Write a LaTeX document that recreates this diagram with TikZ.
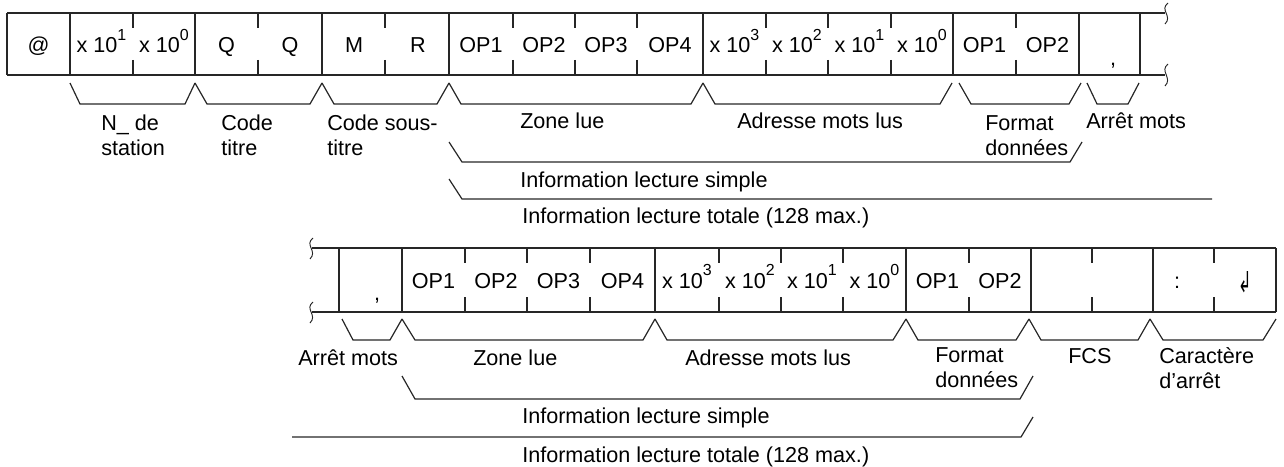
\documentclass[tikz,border=0pt]{standalone}
\usepackage{fontspec}
\setmainfont{Liberation Sans}
\newfontfamily\symfont{DejaVu Sans}
\newcommand{\pw}[1]{x 10\raisebox{9.3pt}{\fontsize{12}{12}\selectfont #1}}
\begin{document}
\begin{tikzpicture}[x=0.75pt,y=-0.75pt,
  rec/.style={draw=black!85,line width=0.9pt},
  tick/.style={draw=black!85,line width=0.9pt},
  brk/.style={draw=black!85,line width=0.9pt},
  squig/.style={draw=black!85,line width=0.7pt},
  ct/.style={font=\fontsize{16.2}{18.75}\selectfont,inner sep=0pt,anchor=base},
  lbl/.style={font=\fontsize{16.2}{18.75}\selectfont,inner sep=0pt,anchor=base west},
  lbl2/.style={font=\fontsize{16.2}{18.75}\selectfont,inner sep=0pt,anchor=north west,align=left}]
\useasboundingbox (0,0) rectangle (1284,467);

% ---------------- top record ----------------
\draw[rec] (7,13) -- (1165,13);
\draw[rec] (7,75) -- (1165,75);
\foreach \x in {7,70,195,322,449,703,953,1079,1140}
  \draw[rec] (\x,13) -- (\x,75);
\foreach \x in {133,258,385,513,575,637,766,828,891,1016}{
  \draw[tick] (\x,13) -- (\x,28);
  \draw[tick] (\x,60) -- (\x,75);}
\draw[squig] (1168,3) .. controls (1159,10) and (1173,16) .. (1165,24);
\draw[squig] (1168,64) .. controls (1159,71) and (1173,78) .. (1165,86);

\node[ct] (t1) at (38.5,53) {@};
\node[ct] (t2) at (101.5,53) {\pw{1}};
\node[ct] (t3) at (164,53) {\pw{0}};
\node[ct] (t4) at (226.5,53) {Q};
\node[ct] (t5) at (290,53) {Q};
\node[ct] (t6) at (354,53) {M};
\node[ct] (t7) at (418,53) {R};
\node[ct] (t8) at (481,53) {OP1};
\node[ct] (t9) at (544,53) {OP2};
\node[ct] (t10) at (606,53) {OP3};
\node[ct] (t11) at (670,53) {OP4};
\node[ct] (t12) at (734.5,53) {\pw{3}};
\node[ct] (t13) at (797,53) {\pw{2}};
\node[ct] (t14) at (859.5,53) {\pw{1}};
\node[ct] (t15) at (922,53) {\pw{0}};
\node[ct] (t16) at (984.5,53) {OP1};
\node[ct] (t17) at (1047.5,53) {OP2};
\node[ct] (t18) at (1113,65) {,};

% top brackets
\draw[brk] (70,83) -- (80,104) -- (185,104) -- (195,83);
\draw[brk] (195,83) -- (207,104) -- (310,104) -- (322,83);
\draw[brk] (322,83) -- (334,104) -- (437,104) -- (449,83);
\draw[brk] (449,83) -- (461,104) -- (691,104) -- (703,83);
\draw[brk] (703,83) -- (715,104) -- (940,104) -- (952,83);
\draw[brk] (959,83) -- (971,104) -- (1069,104) -- (1081,83);
\draw[brk] (1087,83) -- (1097,104) -- (1128,104) -- (1139,83);

\node[lbl2] (l1) at (101,115) {N\_ de\\station};
\node[lbl2] (l2) at (221,115) {Code\\titre};
\node[lbl2] (l3) at (327,115) {Code sous-\\titre};
\node[lbl] (l4) at (520,128) {Zone lue};
\node[lbl] (l5) at (737,128) {Adresse mots lus};
\node[lbl2] (l6) at (985,115) {Format\\données};
\node[lbl] (l7) at (1086,128) {Arrêt mots};

\draw[brk] (449,142) -- (462,162) -- (1070,162) -- (1082,142);
\node[lbl] (l8) at (520,187) {Information lecture simple};
\draw[brk] (449,179) -- (462,199) -- (1212,199);
\node[lbl] (l9) at (522,223) {Information lecture totale (128 max.)};

% ---------------- bottom record ----------------
\draw[rec] (312,248) -- (1276,248);
\draw[rec] (312,312) -- (1276,312);
\foreach \x in {339,402,655,906,1031,1153,1276}
  \draw[rec] (\x,248) -- (\x,312);
\foreach \x in {465,527,590,719,781,843,969,1092,1214}{
  \draw[tick] (\x,248) -- (\x,263);
  \draw[tick] (\x,297) -- (\x,312);}
\draw[squig] (313,238) .. controls (304,245) and (318,251) .. (310,259);
\draw[squig] (313,302) .. controls (304,309) and (318,315) .. (310,323);

\node[ct] (b1) at (377,300) {,};
\node[ct] (b2) at (433.5,288) {OP1};
\node[ct] (b3) at (496,288) {OP2};
\node[ct] (b4) at (558.5,288) {OP3};
\node[ct] (b5) at (622.5,288) {OP4};
\node[ct] (b6) at (687,288) {\pw{3}};
\node[ct] (b7) at (750,288) {\pw{2}};
\node[ct] (b8) at (812,288) {\pw{1}};
\node[ct] (b9) at (874.5,288) {\pw{0}};
\node[ct] (b10) at (937.5,288) {OP1};
\node[ct] (b11) at (1000,288) {OP2};
\node[ct] (b12) at (1177,288) {:};
\node[inner sep=0pt,font=\symfont\fontsize{16}{16}\selectfont] (b13) at (1245,282) {\scalebox{0.75}[1.35]{↲}};

% bottom brackets
\draw[brk] (342,319) -- (353,340) -- (390,340) -- (402,319);
\draw[brk] (402,319) -- (415,340) -- (643,340) -- (655,319);
\draw[brk] (655,319) -- (667,340) -- (893,340) -- (906,319);
\draw[brk] (906,319) -- (918,340) -- (1016,340) -- (1029,319);
\draw[brk] (1029,319) -- (1041,340) -- (1138,340) -- (1150,319);
\draw[brk] (1150,319) -- (1163,340) -- (1263,340) -- (1276,319);

\node[lbl] (m1) at (298,365) {Arrêt mots};
\node[lbl] (m2) at (473,365) {Zone lue};
\node[lbl] (m3) at (685,365) {Adresse mots lus};
\node[lbl2] (m4) at (935,347) {Format\\données};
\node[lbl] (m5) at (1068,363) {FCS};
\node[lbl2] (m6) at (1159,347) {Caractère\\d’arrêt};

\draw[brk] (402,376) -- (415,399) -- (1020,399) -- (1033,376);
\node[lbl] (m7) at (522,423) {Information lecture simple};
\draw[brk] (292,437) -- (1021,437) -- (1033,417);
\node[lbl] (m8) at (522,462) {Information lecture totale (128 max.)};
\end{tikzpicture}
\end{document}
